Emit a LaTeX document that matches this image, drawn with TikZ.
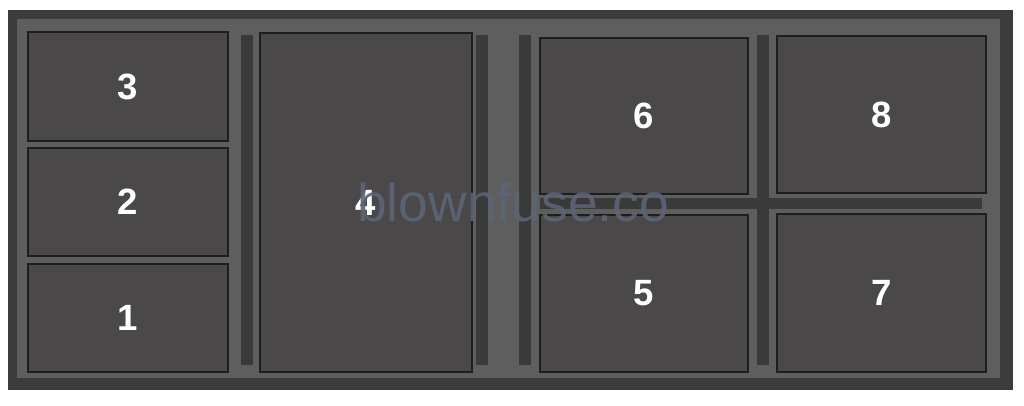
\documentclass[tikz,border=0pt]{standalone}
\usepackage{fontspec}
\setmainfont{Liberation Sans}
\definecolor{framedark}{HTML}{3C3C3C}
\definecolor{framelight}{HTML}{5E5E5E}
\definecolor{boxfill}{HTML}{4A4849}
\definecolor{boxline}{HTML}{1E1E1E}
\definecolor{barfill}{HTML}{3A3A3A}
\definecolor{markcol}{HTML}{5C6475}
\tikzset{fuse/.style={rectangle,draw=boxline,fill=boxfill,line width=0.8pt,inner sep=0pt,
    text=white,font=\fontsize{26}{26}\selectfont\bfseries},
  bar/.style={fill=barfill},
}

\begin{document}
\begin{tikzpicture}[x=0.025cm,y=-0.025cm]
	\useasboundingbox[fill=white] (0,0) rectangle (1024,406);
	% housing
	\fill[framedark] (8,10) rectangle (1013,390);
	\fill[framelight] (17,19) rectangle (1000,378);
	% separator bars
	\fill[bar] (241,35) rectangle (253,365);
	\fill[bar] (476,35) rectangle (488,365);
	\fill[bar] (519,35) rectangle (531,365);
	\fill[bar] (757,35) rectangle (769,365);
	\fill[bar] (540,198) rectangle (982,209);
	
	\node[fuse,minimum width=5cm,minimum height=2.725cm] (3) at (128,86.5){3};
	\node[fuse,minimum width=5cm,minimum height=2.7cm] (2) at (128,202){2};
	\node[fuse,minimum width=5cm,minimum height=2.7cm] (1) at (128,318){1};
	\node[fuse,minimum width=5.3cm,minimum height=8.475cm] (4) at (366,202.5){4};
	\node[fuse,minimum width=5.2cm,minimum height=3.9cm] (6) at (644,116){6};
	\node[fuse,minimum width=5.2cm,minimum height=3.925cm] (5) at (644,293.5){5};
	\node[fuse,minimum width=5.225cm,minimum height=3.925cm] (8) at (881.5,114.5){8};
	\node[fuse,minimum width=5.225cm,minimum height=3.95cm] (7) at (881.5,293){7};
	
	\node[anchor=base west,inner sep=0pt,text=markcol,opacity=0.9,
	  font=\fontsize{38}{38}\selectfont] (mark) at (357,222){blownfuse.co};
\end{tikzpicture}
\end{document}
